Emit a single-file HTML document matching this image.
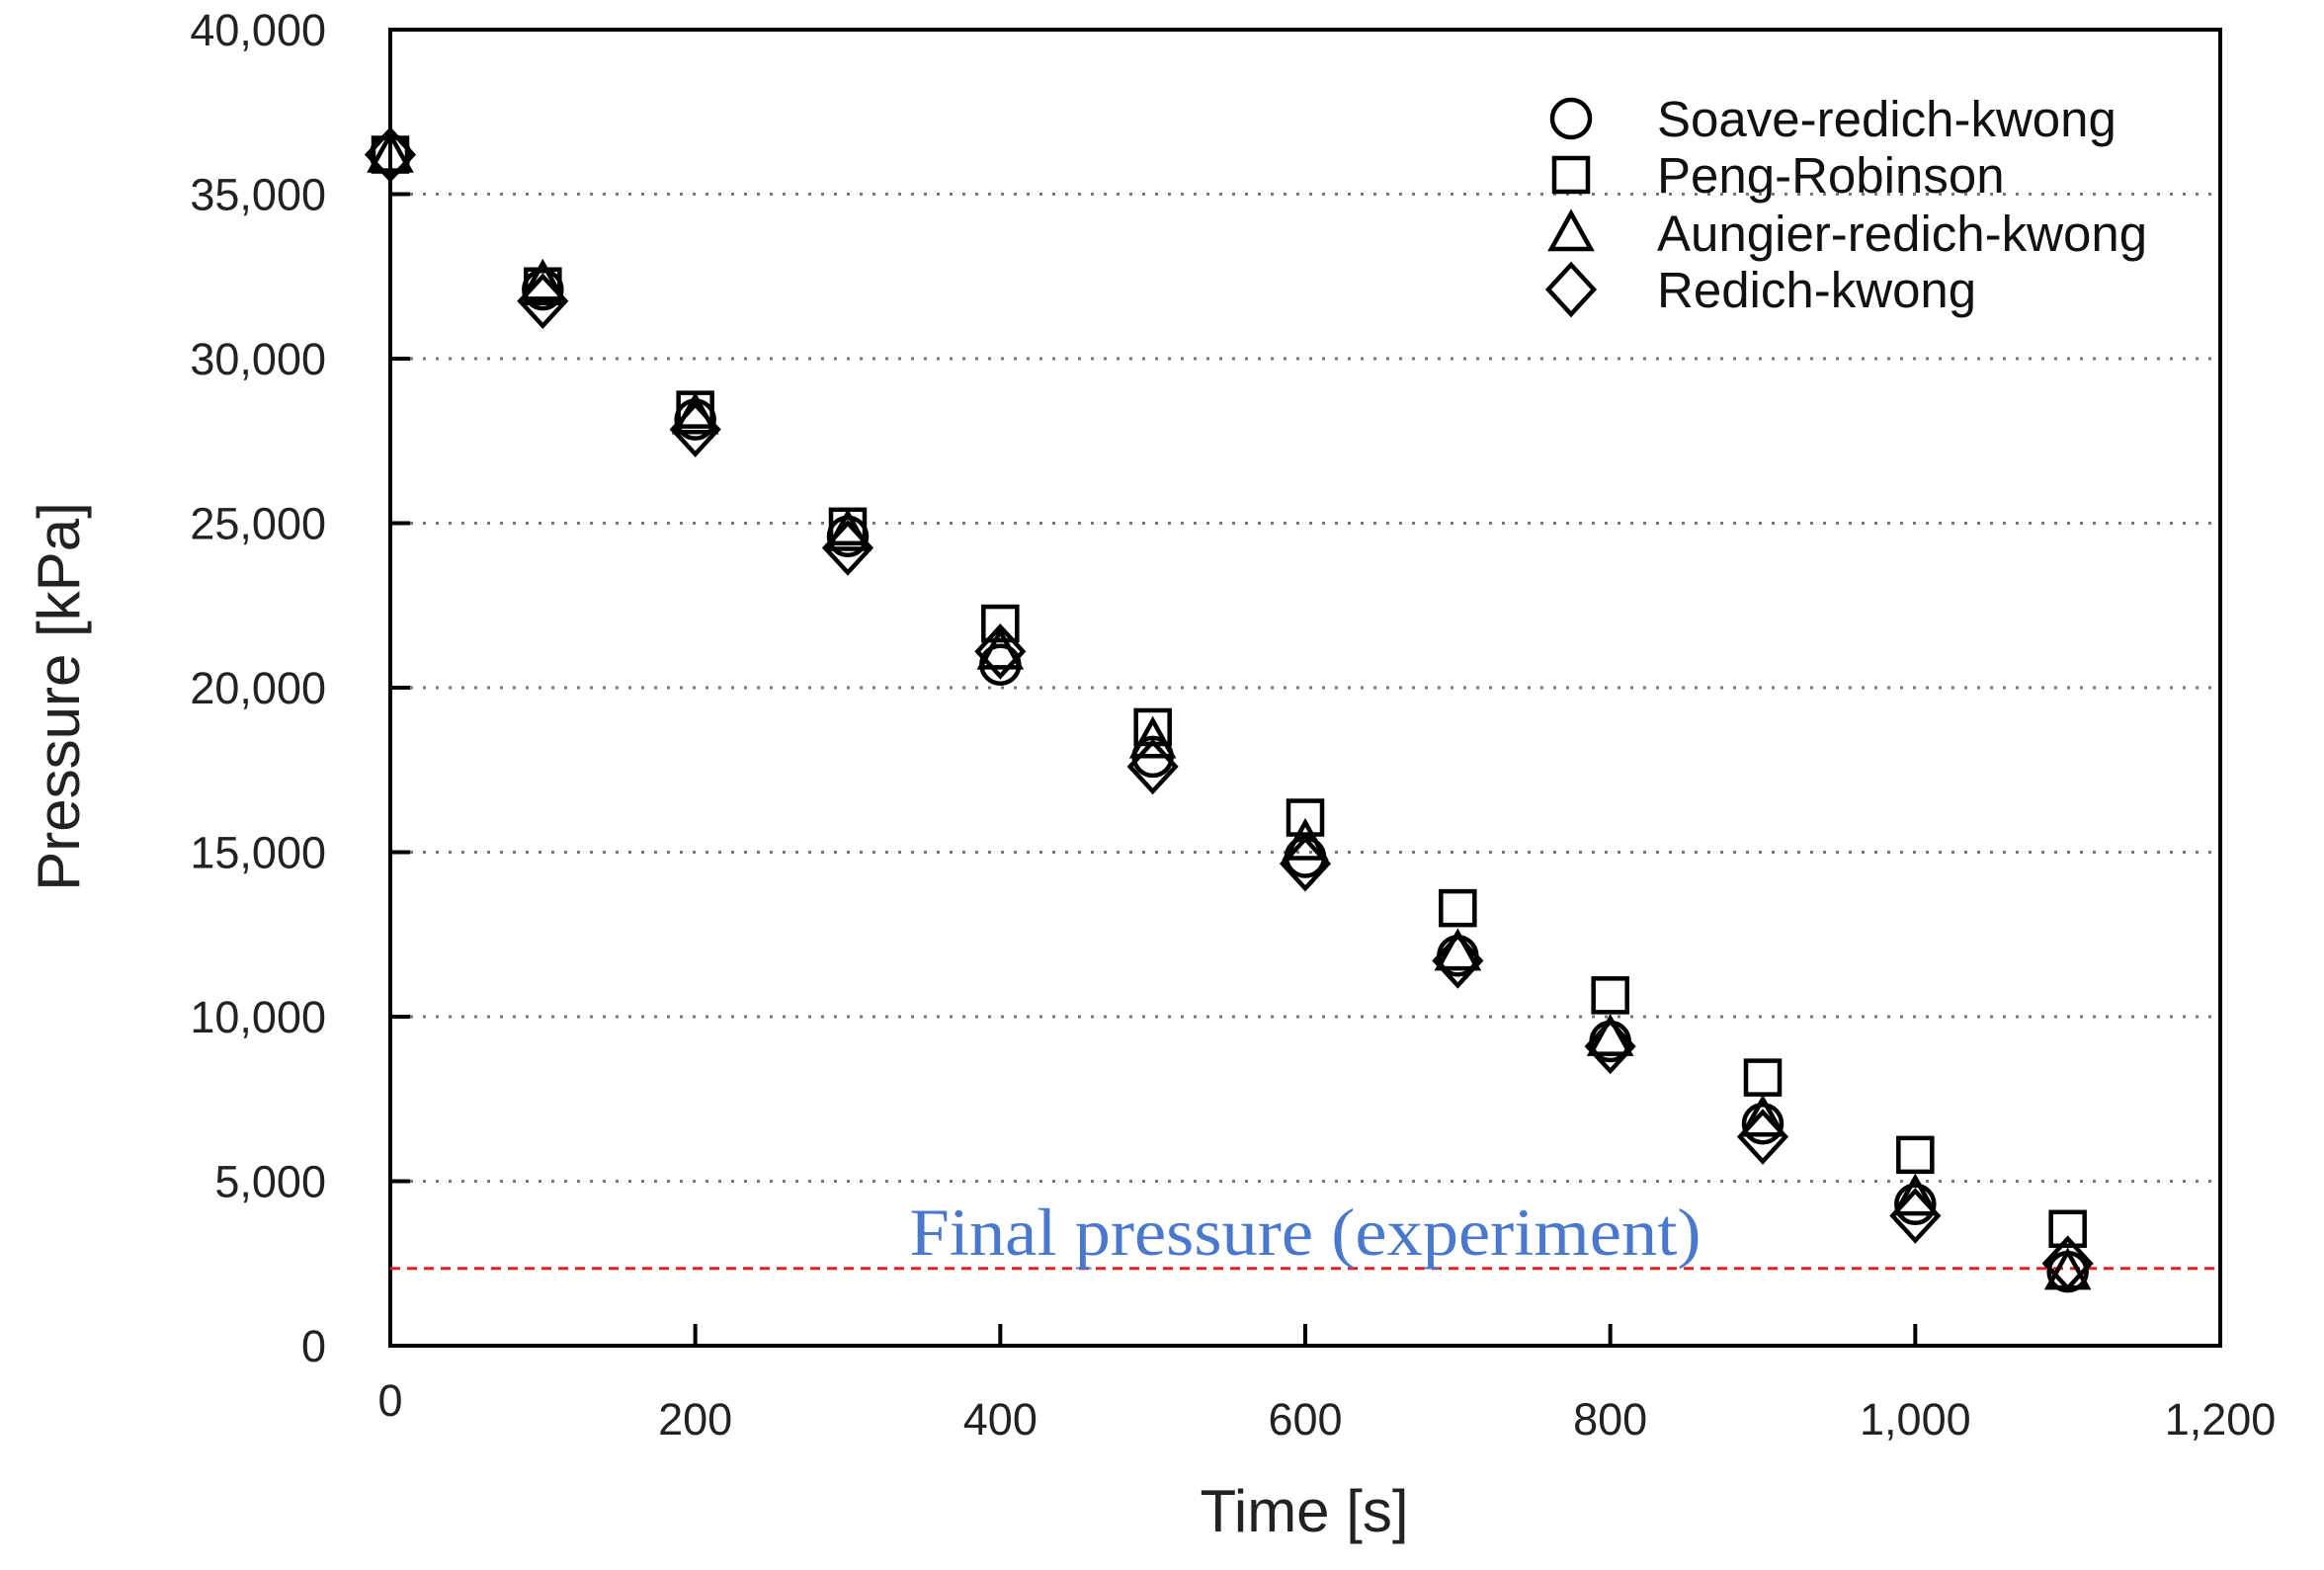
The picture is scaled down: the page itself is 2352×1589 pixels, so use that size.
<!DOCTYPE html>
<html><head><meta charset="utf-8"><style>
html,body{margin:0;padding:0;background:#fff;}
svg{display:block;font-family:"Liberation Sans",Arial,sans-serif;}
</style></head><body>
<svg id="chart" width="2352" height="1589" viewBox="0 0 2352 1589" xmlns="http://www.w3.org/2000/svg">
<g id="grid"></g>
<g id="axes"></g>
<g id="marks"></g>
<g id="legend"></g>
</svg>
<script>
const times = [0,100,200,300,400,500,600,700,800,900,1000,1100];
const srk = [36200,32100,28150,24600,20700,17900,14850,11850,9250,6750,4300,2250];
const pr = [36200,32200,28450,24900,21950,18800,16050,13300,10650,8150,5800,3550];
const ark = [36200,32300,28250,24700,21100,18400,15300,11950,9350,6900,4500,2250];
const rk = [36200,31750,27850,24250,21100,17600,14650,11700,9100,6350,3950,2500];
const xTicks = [0,200,400,600,800,1000,1200];
const xTickLabels = ["0","200","400","600","800","1,000","1,200"];
const yTicks = [0,5000,10000,15000,20000,25000,30000,35000,40000];
const yTickLabels = ["0","5,000","10,000","15,000","20,000","25,000","30,000","35,000","40,000"];
const finalPressure = [2350];
const seriesNames = ["Soave-redich-kwong","Peng-Robinson","Aungier-redich-kwong","Redich-kwong"];

const L=395,R=2247,T=30,B=1362;
const NS="http://www.w3.org/2000/svg";
function xs(v){return L+(v-0)/(1200-0)*(R-L);}
function ys(v){return B-(v-0)/(40000-0)*(B-T);}
function mk(tag,attrs,parent){const e=document.createElementNS(NS,tag);for(const k in attrs)e.setAttribute(k,attrs[k]);parent.appendChild(e);return e;}
const grid=document.getElementById('grid'),axes=document.getElementById('axes'),marks=document.getElementById('marks'),legend=document.getElementById('legend');

yTicks.forEach((v,i)=>{
  const y=ys(v);
  if(v>0&&v<40000){
    const g=mk('line',{x1:L+20,x2:R,y1:y,y2:y,stroke:'#777','stroke-width':3,'stroke-dasharray':'3 10'},grid);
    
    
    const t=mk('line',{x1:L,x2:L+20,y1:y,y2:y,stroke:'#000','stroke-width':4},axes);
    
    
  }
  const lb=mk('text',{x:330,y:y+16,'text-anchor':'end','font-size':45,fill:'#222'},axes);
  lb.textContent=yTickLabels[i];
  
  
});
xTicks.forEach((v,i)=>{
  const x=xs(v);
  if(v>0&&v<1200){
    const t=mk('line',{x1:x,x2:x,y1:B,y2:B-22,stroke:'#000','stroke-width':4},axes);
    
    
  }
  const lb=mk('text',{x:x,y:v===0?1433:1452,'text-anchor':'middle','font-size':45,fill:'#222'},axes);
  lb.textContent=xTickLabels[i];
  
  
});
const frame=mk('rect',{x:L,y:T,width:R-L,height:B-T,fill:'none',stroke:'#000','stroke-width':4},axes);


const xt=mk('text',{x:1320,y:1550,'text-anchor':'middle','font-size':60,fill:'#222'},axes);
xt.textContent='Time [s]';


const yt=mk('text',{x:0,y:0,'text-anchor':'middle','font-size':60,fill:'#222',transform:'translate(80,705) rotate(-90)'},axes);
yt.textContent='Pressure [kPa]';



const fy=ys(finalPressure[0]);
const fl=mk('line',{x1:L,x2:R,y1:fy,y2:fy,stroke:'#e02020','stroke-width':3,'stroke-dasharray':'10 7'},marks);


const ft=mk('text',{x:1321,y:1270,'text-anchor':'middle','font-size':68,fill:'#4a78cc','font-family':'"Liberation Serif",serif',textLength:801,lengthAdjust:'spacingAndGlyphs'},marks);
ft.textContent='Final pressure (experiment)';



function marker(type,cx,cy,parent){
  let e;
  if(type===0) e=mk('circle',{cx:cx,cy:cy,r:19},parent);
  else if(type===1) e=mk('rect',{x:cx-17,y:cy-17,width:34,height:34},parent);
  else if(type===2) e=mk('polygon',{points:`${cx},${cy-20} ${cx+20},${cy+16} ${cx-20},${cy+16}`},parent);
  else e=mk('polygon',{points:`${cx},${cy-25} ${cx+23},${cy} ${cx},${cy+25} ${cx-23},${cy}`},parent);
  e.setAttribute('fill','#fff');e.setAttribute('fill-opacity','0');e.setAttribute('stroke','#000');e.setAttribute('stroke-width','4.5');
  return e;
}
const series=[srk,pr,ark,rk];
const snames=['soave-point','peng-robinson-point','aungier-point','redich-kwong-point'];
series.forEach((s,si)=>{
  s.forEach((v,i)=>{
    const e=marker(si,xs(times[i]),ys(v),marks);
    
    
  });
});
const ly=[120,177,236,293];
seriesNames.forEach((n,i)=>{
  const e=marker(i,1590,ly[i],legend);
  
  
  const t=mk('text',{x:1677,y:ly[i]+18,'font-size':51,fill:'#111'},legend);
  t.textContent=n;
  
  
});
</script>
</body></html>
